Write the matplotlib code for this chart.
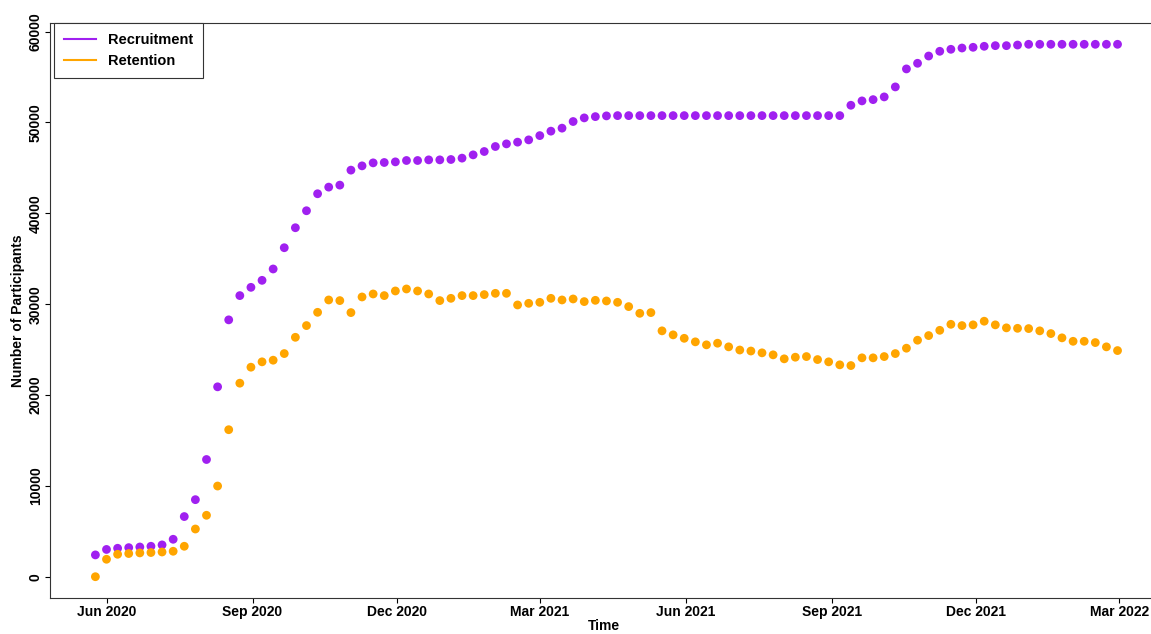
#!/usr/bin/env python3
import matplotlib
matplotlib.use("Agg")
import matplotlib.pyplot as plt
import matplotlib.dates as mdates
from matplotlib.lines import Line2D
import numpy as np
import pandas as pd

# weekly counts
weeks = pd.date_range("2020-05-25", periods=93, freq="7D")

recruitment = [
    2400, 3000, 3130, 3200, 3270, 3350, 3500, 4120, 6620, 8480,
    12900, 20900, 28270, 30940, 31850, 32620, 33870, 36210, 38410, 40280,
    42150, 42880, 43100, 44750, 45220, 45550, 45590, 45660, 45810, 45810,
    45880, 45880, 45920, 46070, 46430, 46800, 47350, 47640, 47830, 48080,
    48550, 49040, 49370, 50100, 50500, 50640, 50720, 50750, 50750, 50750,
    50750, 50750, 50750, 50750, 50750, 50750, 50750, 50750, 50750, 50750,
    50750, 50750, 50750, 50750, 50750, 50750, 50750, 50750, 51890, 52370,
    52510, 52810, 53910, 55890, 56510, 57310, 57830, 58050, 58190, 58270,
    58380, 58450, 58450, 58520, 58600, 58600, 58600, 58600, 58600, 58600,
    58600, 58600, 58600,
]
retention = [
    0, 1920, 2470, 2550, 2620, 2660, 2720, 2800, 3350, 5250,
    6760, 9980, 16180, 21300, 23060, 23650, 23830, 24560, 26350, 27640,
    29100, 30460, 30390, 29070, 30790, 31120, 30940, 31450, 31670, 31450,
    31120, 30390, 30640, 30940, 30940, 31050, 31190, 31190, 29910, 30090,
    30200, 30640, 30460, 30570, 30280, 30420, 30350, 30200, 29730, 28990,
    29070, 27060, 26620, 26240, 25850, 25520, 25700, 25300, 24950, 24840,
    24640, 24420, 23980, 24160, 24230, 23900, 23650, 23320, 23240, 24090,
    24090, 24230, 24560, 25150, 26030, 26540, 27120, 27780, 27640, 27720,
    28120, 27720, 27390, 27340, 27310, 27060, 26760, 26290, 25910, 25910,
    25770, 25300, 24890,
]

tick_dates = pd.to_datetime(["2020-06-01", "2020-09-01", "2020-12-01", "2021-03-01",
                             "2021-06-01", "2021-09-01", "2021-12-01", "2022-03-01"])
tick_labels = ["Jun 2020", "Sep 2020", "Dec 2020", "Mar 2021",
               "Jun 2021", "Sep 2021", "Dec 2021", "Mar 2022"]
yticks = [0, 10000, 20000, 30000, 40000, 50000, 60000]

purple = "#A020F0"
orange = "#FFA500"

plt.rcParams["font.family"] = ["Liberation Sans", "DejaVu Sans"]
plt.rcParams["font.weight"] = "bold"

fig = plt.figure(figsize=(11.51, 6.34), dpi=100)
ax = fig.add_axes([50 / 1151, 36 / 634, 1108 / 1151, 575 / 634])

ax.scatter(weeks, recruitment, s=40, color=purple, edgecolors="none", zorder=3)
ax.scatter(weeks, retention, s=40, color=orange, edgecolors="none", zorder=3)

x0 = mdates.date2num(pd.Timestamp("2020-06-01"))
x1 = mdates.date2num(pd.Timestamp("2022-03-01"))
ax.set_xlim(x0 - 35.6, x1 + 24.5)
ax.set_ylim(-2344, 60944)

ax.set_xticks(mdates.date2num(tick_dates))
ax.set_xticklabels(tick_labels, fontsize=10, fontweight="bold")
ax.set_yticks(yticks)
ax.set_yticklabels([str(v) for v in yticks], fontsize=10, fontweight="bold",
                   rotation=90, va="center")
ax.tick_params(direction="out", length=3.6, width=0.8, pad=1.5)

ax.set_xlabel("Time", fontsize=10, fontweight="bold", labelpad=0)
ax.set_ylabel("Number of Participants", fontsize=10, fontweight="bold", labelpad=3)

for side in ["left", "bottom", "top"]:
    ax.spines[side].set_linewidth(0.8)
    ax.spines[side].set_color("#333333")
ax.spines["right"].set_visible(False)

handles = [Line2D([], [], color=purple, lw=1.5), Line2D([], [], color=orange, lw=1.5)]
leg = ax.legend(handles, ["Recruitment", "Retention"], loc="upper left",
                bbox_to_anchor=(4 / 1108, 1.0), borderaxespad=0, fancybox=False,
                edgecolor="#333333", framealpha=1, prop={"size": 10.5, "weight": "bold"},
                handlelength=2.2, labelspacing=0.45, borderpad=0.7)
leg.get_frame().set_linewidth(0.8)

fig.savefig("out.png", dpi=100)
